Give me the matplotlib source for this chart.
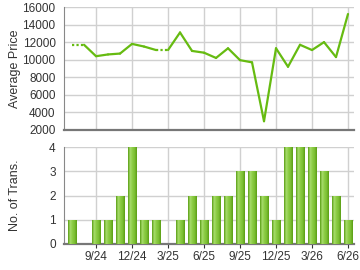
import numpy as np
import matplotlib.pyplot as plt
from matplotlib.colors import LinearSegmentedColormap

months = ['7/24', '8/24', '9/24', '10/24', '11/24', '12/24', '1/25', '2/25',
          '3/25', '4/25', '5/25', '6/25', '7/25', '8/25', '9/25', '10/25',
          '11/25', '12/25', '1/26', '2/26', '3/26', '4/26', '5/26', '6/26']
# None = no transactions that month (price carried over, dotted line)
avg_price = [11700, None, 10400, 10600, 10700, 11800, 11500, 11100,
             None, 13100, 11000, 10800, 10200, 11300, 9950, 9700,
             3000, 11300, 9200, 11700, 11100, 12000, 10300, 15200]
num_trans = [1, 0, 1, 1, 2, 4, 1, 1, 0, 1, 2, 1, 2, 2, 3, 3, 2, 1, 4, 4, 4, 3, 2, 1]
tick_labels = ['9/24', '12/24', '3/25', '6/25', '9/25', '12/25', '3/26', '6/26']

plt.rcParams['font.family'] = ['Liberation Sans', 'DejaVu Sans']
plt.rcParams['font.size'] = 8.5

x = np.arange(len(months))
carried = []
last = None
for p in avg_price:
    if p is not None:
        last = p
    carried.append(last)

line_color = '#66bb11'
grid_color = '#d0d0d0'
text_color = '#333333'
tick_pos = [months.index(t) for t in tick_labels]

fig = plt.figure(figsize=(3.6, 2.7), dpi=100)
ax1 = fig.add_axes([64/360, 1-130/270, 290/360, 123/270])
ax2 = fig.add_axes([64/360, 1-244/270, 290/360, 97/270])

for ax in (ax1, ax2):
    ax.set_xlim(-0.67, 23.5)
    ax.set_xticks(tick_pos)
    ax.grid(True, color=grid_color, linewidth=1)
    ax.set_axisbelow(True)
    ax.spines['top'].set_visible(False)
    ax.spines['right'].set_visible(False)
    ax.spines['left'].set_color('#888888')
    ax.spines['left'].set_linewidth(0.8)
    ax.spines['bottom'].set_color('#777777')
    ax.spines['bottom'].set_linewidth(1.6)
    ax.tick_params(axis='y', length=0, pad=6, colors=text_color)

# price line
for i in range(1, len(x)):
    ls = (0, (1, 1)) if avg_price[i] is None else '-'
    ax1.plot(x[i-1:i+1], carried[i-1:i+1], color=line_color, linewidth=1.6,
             linestyle=ls, solid_capstyle='round')
ax1.set_ylim(2000, 16000)
ax1.set_yticks(range(2000, 16001, 2000))
ax1.tick_params(axis='x', length=0, labelbottom=False)
ax1.set_ylabel('Average Price', color=text_color, fontsize=9)
ax1.yaxis.set_label_coords(-0.148, 0.5)

# transaction bars with gradient fill
cmap = LinearSegmentedColormap.from_list(
    'bar', ['#5a9e14', '#a8dc6c', '#8ccc44', '#7cbf33', '#5a9e14'])
grad = np.linspace(0, 1, 64).reshape(1, -1)
bars = ax2.bar(x, num_trans, width=0.7, color='#8ccc44', zorder=2)
for b in bars:
    if b.get_height() <= 0:
        continue
    im = ax2.imshow(grad, cmap=cmap, aspect='auto', zorder=3,
                    extent=[b.get_x(), b.get_x() + b.get_width(), 0, b.get_height()])
    im.set_clip_path(b)
ax2.set_xlim(-0.67, 23.5)
ax2.set_ylim(0, 4)
ax2.set_yticks(range(0, 5))
ax2.set_xticklabels(tick_labels)
ax2.tick_params(axis='x', length=3, width=0.8, color='#555555', pad=2, colors=text_color)
ax2.tick_params(axis='x', colors=text_color)
ax2.set_ylabel('No. of Trans.', color=text_color, fontsize=9)
ax2.yaxis.set_label_coords(-0.148, 0.5)

fig.savefig('out.png', dpi=100)
